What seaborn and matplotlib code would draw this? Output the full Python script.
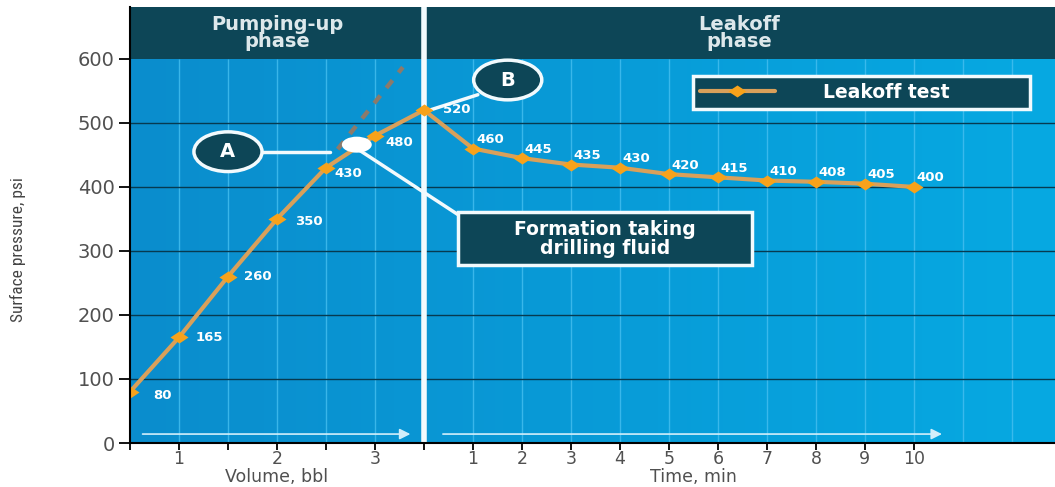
import matplotlib.pyplot as plt
import numpy as np
import pandas as pd
import seaborn as sns
from matplotlib.colors import LinearSegmentedColormap
from matplotlib.patches import Ellipse, Rectangle
from matplotlib.path import Path

# ===== data
volume_bbl = [0.5, 1.0, 1.5, 2.0, 2.5, 3.0, 3.5]
pump_psi = [80, 165, 260, 350, 430, 480, 520]
time_min = [1, 2, 3, 4, 5, 6, 7, 8, 9, 10]
leak_psi = [460, 445, 435, 430, 420, 415, 410, 408, 405, 400]
volume_ticks = [1, 2, 3]
time_ticks = [1, 2, 3, 4, 5, 6, 7, 8, 9, 10]
pressure_ticks = [0, 100, 200, 300, 400, 500, 600]


# both phases share one x scale: half a barrel is drawn as wide as a minute
def vol_pos(v):
    return (np.asarray(v, dtype=float) - 0.5) * 2


def time_pos(t):
    return vol_pos(3.5) + np.asarray(t, dtype=float)


df = pd.DataFrame({
    "pos": np.concatenate([vol_pos(volume_bbl), time_pos(time_min)]),
    "psi": pump_psi + leak_psi,
    "phase": ["pump"] * len(pump_psi) + ["leak"] * len(leak_psi),
})

# ===== style
header_c = "#0d4657"
line_c = "#d9a05a"
marker_c = "#f7a21b"
white = "#f2fafd"
grey = "#505050"
XMAX = 18.88
YTOP = 681

sns.set_style("white")
plt.rcParams["font.family"] = ["DejaVu Sans"]

fig = plt.figure(figsize=(10.55, 4.87), dpi=100)
ax = fig.add_axes([0.1232, 0.0903, 0.8768, 0.8953])

# blue background, slightly lighter to the right
bg = LinearSegmentedColormap.from_list("bg", ["#0b8dcd", "#06a9e2"])
ax.imshow(np.linspace(0, 1, 256).reshape(1, -1), cmap=bg, aspect="auto",
          extent=(0, XMAX, 0, 600), zorder=0)
ax.axhspan(600, YTOP, color=header_c, zorder=1, lw=0)

ax.vlines(np.arange(1, 19), 0, 600, color="#46bff0", lw=1, alpha=0.8, zorder=1)
ax.hlines(pressure_ticks[1:-1], 0, XMAX, color="#073a50", lw=1, zorder=2)
ax.axvline(vol_pos(3.5), color=white, lw=4, zorder=3)

# header
ax.text(vol_pos(2), 640, "Pumping-up\nphase", ha="center", va="center",
        color="#dde8eb", weight="bold", size=14, linespacing=0.85, zorder=4)
ax.text((time_pos(0) + XMAX) / 2, 640, "Leakoff\nphase", ha="center", va="center",
        color="#dde8eb", weight="bold", size=14, linespacing=0.85, zorder=4)

# extrapolated straight line
ax.plot([4.24, 5.57], [459, 587], ls=(0, (2.2, 2.2)), color="#8c7a6a", lw=3.2, zorder=4)

# wide diamond marker
diamond = Path([(-1.35, 0), (0, 0.9), (1.35, 0), (0, -0.9), (-1.35, 0)],
               [Path.MOVETO, Path.LINETO, Path.LINETO, Path.LINETO, Path.CLOSEPOLY])
sns.lineplot(data=df, x="pos", y="psi", color=line_c, lw=3, marker=diamond,
             markersize=13, markerfacecolor=marker_c, markeredgewidth=0,
             sort=False, ax=ax, zorder=5, label="Leakoff test")

# value labels
pump_offsets = [(23, -4), (17, 0), (16, 0), (18, -3), (8, -6), (10, -7), (19, 1)]
for x, y, off in zip(vol_pos(volume_bbl), pump_psi, pump_offsets):
    ax.annotate(str(y), (x, y), xytext=off, textcoords="offset pixels",
                ha="left", va="center", color="white", weight="bold", size=9.5, zorder=7)
for x, y in zip(time_pos(time_min), leak_psi):
    ax.annotate(str(y), (x, y), xytext=(3, 9), textcoords="offset pixels",
                ha="left", va="center", color="white", weight="bold", size=9.5, zorder=7)

# callouts
ax.plot([2.69, 4.08], [455, 455], color=white, lw=2.5, zorder=4)
ax.plot([4.65, 6.69], [459, 357], color=white, lw=2.5, zorder=4)
ax.plot([7.10, 6.12], [544, 520], color=white, lw=2.5, zorder=4)
ax.add_patch(Ellipse((4.63, 466), 0.61, 25, fc="white", ec="none", zorder=6))
for (cx, cy), s in [((2.0, 455), "A"), ((7.71, 567), "B")]:
    ax.add_patch(Ellipse((cx, cy), 1.39, 62, fc=header_c, ec=white, lw=2.5, zorder=6))
    ax.text(cx, cy, s, ha="center", va="center", color="white", weight="bold",
            size=14, zorder=7)
ax.add_patch(Rectangle((6.69, 278), 6.0, 83, fc=header_c, ec=white, lw=2.5, zorder=6))
ax.text(9.69, 319, "Formation taking\ndrilling fluid", ha="center", va="center",
        color="white", weight="bold", size=13.5, linespacing=1.0, zorder=7)

# direction arrows
arrow = dict(arrowstyle="-|>", color="#d2eefa", lw=1.2, mutation_scale=16)
ax.annotate("", xy=(5.78, 14), xytext=(0.2, 14), arrowprops=arrow, zorder=4)
ax.annotate("", xy=(16.63, 14), xytext=(6.33, 14), arrowprops=arrow, zorder=4)

# legend
leg = ax.legend(loc="center left", bbox_to_anchor=(0.6086, 0.771, 0.3645, 0.066),
                mode="expand", borderaxespad=0, handlelength=4, handletextpad=2.6,
                borderpad=0.35, fancybox=False, framealpha=1, facecolor=header_c,
                edgecolor=white, prop={"weight": "bold", "size": 13.5},
                labelcolor="white")
leg.get_frame().set_linewidth(2.5)
leg.set_zorder(8)

# axes
ax.set_xlim(0, XMAX)
ax.set_ylim(0, YTOP)
ticks = np.arange(0, time_pos(time_ticks[-1]) + 1)
labels = [""] * len(ticks)
for v in volume_ticks:
    labels[int(vol_pos(v))] = str(v)
for t in time_ticks:
    labels[int(time_pos(t))] = str(t)
ax.set_xticks(ticks, labels=labels)
ax.set_yticks(pressure_ticks)
ax.tick_params(axis="x", length=5, width=1.3, color="black", pad=0,
               labelsize=12.5, labelcolor=grey)
ax.tick_params(axis="y", length=8, width=1.3, color="black", pad=3,
               labelsize=14, labelcolor=grey)
ax.tick_params(left=True, bottom=True)
ax.set_xlabel("")
ax.set_ylabel("")
ax.spines[["top", "right"]].set_visible(False)
for s in ["left", "bottom"]:
    ax.spines[s].set_color("black")
    ax.spines[s].set_linewidth(1.5)
    ax.spines[s].set_zorder(9)

ax.text(vol_pos(2), -0.079, "Volume, bbl", transform=ax.get_xaxis_transform(),
        ha="center", va="center", size=12.5, color=grey)
ax.text(time_pos(5.5), -0.079, "Time, min", transform=ax.get_xaxis_transform(),
        ha="center", va="center", size=12.5, color=grey)
fig.text(0.017, 0.487, "Surface pressure, psi", rotation=90, ha="center", va="center",
         size=12.5, color="#444444",
         family=["Liberation Sans Narrow", "Roboto Condensed", "Open Sans Condensed",
                 "DejaVu Sans Condensed", "Liberation Sans"], stretch="condensed")

fig.savefig("out.png", dpi=100)
